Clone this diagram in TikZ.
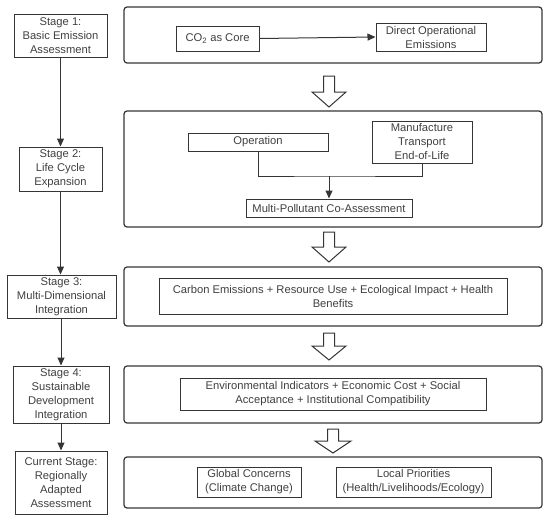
\documentclass[tikz,border=0pt]{standalone}
\usepackage{fontspec}
\setmainfont{Liberation Sans}
\usetikzlibrary{arrows.meta}
\definecolor{ln}{HTML}{353535}
\definecolor{tx}{HTML}{404040}
\begin{document}
\begin{tikzpicture}[x=1pt,y=-1pt,
  every node/.style={font=\fontsize{11.2}{14}\selectfont, text=tx, align=center, inner sep=0pt},
  box/.style={draw=ln, line width=1pt, rectangle},
  panel/.style={draw=ln, line width=1.2pt, rounded corners=3pt, minimum width=418pt},
  conn/.style={draw=ln, line width=1pt},
  arr/.style={conn, -{Triangle[length=8pt,width=7pt]}},
  hollow/.style={draw=ln, line width=1pt, fill=white}]
\useasboundingbox (0,0) rectangle (550,522);
% stage column
\node[box, minimum width=93pt, minimum height=43pt] (s1) at (60.5,35.5) {Stage 1:\\Basic Emission\\Assessment};
\node[box, minimum width=83pt, minimum height=44pt] (s2) at (60.5,169) {Stage 2:\\Life Cycle\\Expansion};
\node[box, minimum width=109pt, minimum height=43pt] (s3) at (61.5,296.5) {Stage 3:\\Multi-Dimensional\\Integration};
\node[box, minimum width=96pt, minimum height=57pt] (s4) at (61,394.5) {Stage 4:\\Sustainable\\Development\\Integration};
\node[box, minimum width=92pt, minimum height=63pt] (s5) at (61,482.5) {Current Stage:\\Regionally\\Adapted\\Assessment};
\draw[arr] (s1.south) -- (s1.south |- s2.north);
\draw[arr] (s2.south) -- (s2.south |- s3.north);
\draw[arr] (s3.south -| s4.north) -- (s4.north);
\draw[arr] (s4.south) -- (s4.south |- s5.north);
% panels
\node[panel, minimum height=56pt] (p1) at (333,35) {};
\node[panel, minimum height=116pt] (p2) at (333,169) {};
\node[panel, minimum height=59pt] (p3) at (333,296.5) {};
\node[panel, minimum height=57pt] (p4) at (333,394.5) {};
\node[panel, minimum height=51pt] (p5) at (333,482.5) {};
% panel 1
\node[box, minimum width=83pt, minimum height=25pt] (co2) at (217.5,38.5) {CO\textsubscript{2} as Core};
\node[box, minimum width=110pt, minimum height=28pt] (dir) at (431,37) {Direct Operational\\Emissions};
\draw[arr] (co2.east) -- (dir.west);
% panel 2
\node[box, minimum width=140pt, minimum height=18pt] (op) at (258,142) {Operation};
\node[box, minimum width=100pt, minimum height=42pt] (mf) at (422,142) {Manufacture\\Transport\\End-of-Life};
\node[box, minimum width=166pt, minimum height=18pt] (mp) at (329,208) {Multi-Pollutant Co-Assessment};
\coordinate (mg) at (329,176);
\draw[conn] (op.south) |- (mg) -| (mf.south);
\draw[arr] (mg) -- (mp.north);
% panel 3
\node[box, minimum width=348pt, minimum height=36pt] (cb) at (333,296) {Carbon Emissions + Resource Use + Ecological Impact + Health\\Benefits};
% panel 4
\node[box, minimum width=306pt, minimum height=32pt] (env) at (333,394) {Environmental Indicators + Economic Cost + Social\\Acceptance + Institutional Compatibility};
% panel 5
\node[box, minimum width=104pt, minimum height=30pt] (gl) at (249,482) {Global Concerns\\(Climate Change)};
\node[box, minimum width=155pt, minimum height=30pt] (lc) at (413.5,482) {Local Priorities\\(Health/Livelihoods/Ecology)};
% hollow arrows
\draw[hollow] (323.5,76) -- (334.5,76) -- (334.5,92) -- (346,92) -- (329,107) -- (312,92) -- (323.5,92) -- cycle;
\draw[hollow] (323.5,232) -- (334.5,232) -- (334.5,247) -- (346,247) -- (329,262) -- (312,247) -- (323.5,247) -- cycle;
\draw[hollow] (323.5,333) -- (334.5,333) -- (334.5,346) -- (346,346) -- (329,360) -- (312,346) -- (323.5,346) -- cycle;
\draw[hollow] (327.5,429) -- (338.5,429) -- (338.5,441) -- (351,441) -- (333,453) -- (315,441) -- (327.5,441) -- cycle;
\end{tikzpicture}
\end{document}
